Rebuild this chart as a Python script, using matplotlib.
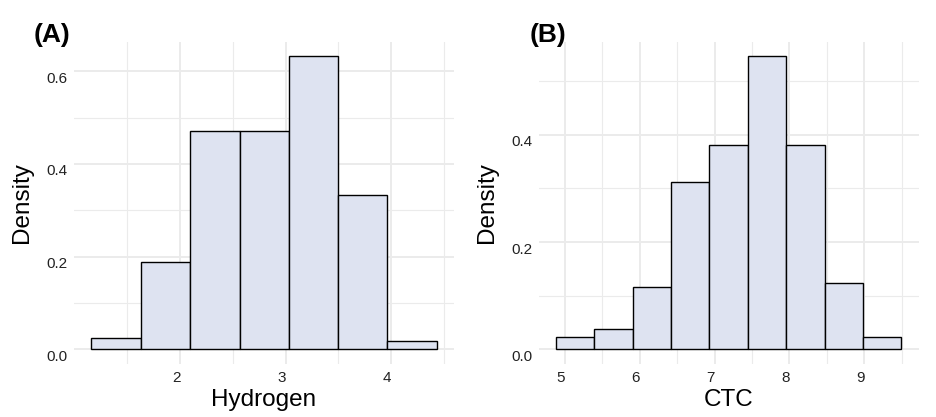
import numpy as np
import matplotlib
matplotlib.use('Agg')
import matplotlib.pyplot as plt
import matplotlib.transforms as mtransforms

plt.rcParams['font.family'] = ['Liberation Sans', 'DejaVu Sans']

# histogram data (bin edges + density)
hyd_edges = [1.159, 1.627, 2.097, 2.565, 3.031, 3.500, 3.965, 4.433]
hyd_density = [0.024, 0.188, 0.471, 0.471, 0.632, 0.333, 0.017]

ctc_edges = [4.884, 5.394, 5.906, 6.418, 6.930, 7.444, 7.957, 8.470, 8.982, 9.494]
ctc_density = [0.023, 0.038, 0.117, 0.312, 0.381, 0.546, 0.381, 0.124, 0.023]

hyd_major = [2, 3, 4]
hyd_minor = [1.5, 2.5, 3.5, 4.5]
ctc_major = [5, 6, 7, 8, 9]
ctc_minor = [5.5, 6.5, 7.5, 8.5, 9.5]
hyd_yticks = [0.0, 0.2, 0.4, 0.6]
ctc_yticks = [0.0, 0.2, 0.4]
y_minor = [0.1, 0.3, 0.5]

fill = '#DEE3F1'
grid_col = '#EBEBEB'

fig = plt.figure(figsize=(9.36, 4.17), dpi=100)
W, H = 936, 417


def panel(rect_px, edges, dens, xmaj, xmin, ymaj, xlabel, tag, tag_x):
    l, t, r, b = rect_px
    ax = fig.add_axes([l / W, (H - b) / H, (r - l) / W, (b - t) / H])
    edges = np.array(edges)
    ax.bar(edges[:-1], dens, width=np.diff(edges), align='edge',
           color=fill, edgecolor='black', linewidth=1.0, zorder=3)
    # ggplot-like 5% expansion
    xr = edges[-1] - edges[0]
    ax.set_xlim(edges[0] - 0.05 * xr, edges[-1] + 0.05 * xr)
    ym = max(dens)
    ax.set_ylim(-0.05 * ym, ym * 1.05)
    ax.set_xticks(xmaj)
    ax.set_xticks(xmin, minor=True)
    ax.set_yticks(ymaj)
    ax.set_yticks(y_minor, minor=True)
    ax.set_yticklabels(['%.1f' % v for v in ymaj])
    ax.grid(which='major', color=grid_col, linewidth=1.4, zorder=0)
    ax.grid(which='minor', color=grid_col, linewidth=0.8, zorder=0)
    ax.set_axisbelow(True)
    for s in ax.spines.values():
        s.set_visible(False)
    ax.tick_params(which='both', length=0)
    ax.tick_params(axis='x', labelsize=11, colors='#222222', pad=5)
    ax.tick_params(axis='y', labelsize=11, colors='#222222', pad=5)
    # nudge tick labels like the original rendering
    off_y = mtransforms.ScaledTranslation(0, -6 / 100, fig.dpi_scale_trans)
    for lab in ax.get_yticklabels():
        lab.set_transform(lab.get_transform() + off_y)
    off_x = mtransforms.ScaledTranslation(-4 / 100, 0, fig.dpi_scale_trans)
    for lab in ax.get_xticklabels():
        lab.set_transform(lab.get_transform() + off_x)
    ax.set_xlabel(xlabel, fontsize=17.5, labelpad=3)
    ax.set_ylabel('Density', fontsize=17.5, labelpad=9)
    fig.text(tag_x / W, (H - 42) / H, tag, fontsize=19, fontweight='bold',
             ha='left', va='baseline')
    return ax


panel((74, 41.7, 454, 364), hyd_edges, hyd_density, hyd_major, hyd_minor,
      hyd_yticks, 'Hydrogen', '(A)', 34)
panel((539, 41.7, 918.5, 364), ctc_edges, ctc_density, ctc_major, ctc_minor,
      ctc_yticks, 'CTC', '(B)', 530)

fig.savefig('out.png', dpi=100)
